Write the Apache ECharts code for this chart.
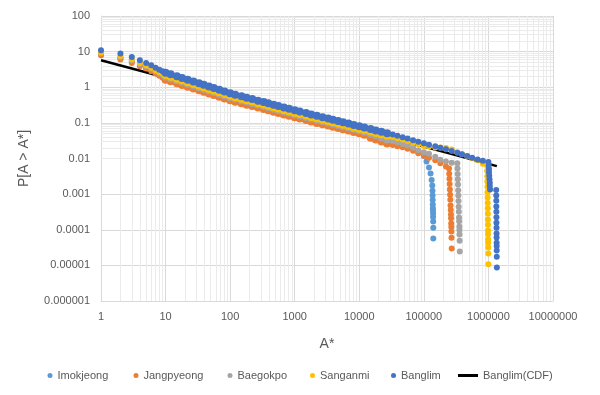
<!DOCTYPE html>
<html>
<head>
<meta charset="utf-8">
<script src="https://cdn.jsdelivr.net/npm/echarts@6/dist/echarts.min.js"></script>
<style>html,body{margin:0;padding:0;background:#fff;}#c{width:600px;height:395px;}</style>
</head>
<body>
<div id="c"></div>
<script>
const xTickLabels = ['1','10','100','1000','10000','100000','1000000','10000000'];
const yTickLabels = ['0.000001','0.00001','0.0001','0.001','0.01','0.1','1','10','100'];
const seriesNames = ['Imokjeong','Jangpyeong','Baegokpo','Sanganmi','Banglim'];
const cdfName = 'Banglim(CDF)';

const bandA = [1,2,3,4,5,6,7,8,9,
10,12,15,18,22,27,33,39,47,56,68,82,
100,120,150,180,220,270,330,390,470,560,680,820,
1000,1200,1500,1800,2200,2700,3300,3900,4700,5600,6800,8200,
10000,12000,15000,18000,22000,27000,33000,39000,47000,56000,68000,82000,
100000,120000,150000,180000,220000,270000,330000,390000,470000,560000,680000,820000];

const imokP = [8.2,6.5,5.2,4.2,3.5,3.05,2.6,2.3,2.07,
1.86,1.67,1.47,1.32,1.18,1.04,0.934,0.847,0.760,0.685,0.612,0.550,
0.489,0.449,0.403,0.370,0.337,0.305,0.277,0.256,0.235,0.216,0.197,0.180,
0.164,0.151,0.136,0.125,0.114,0.105,0.0956,0.0887,0.0816,0.0753,0.0690,0.0635,
0.0581,0.0534,0.0484,0.0445,0.0407,0.0371,0.0336,0.0310,0.0280,0.0245,0.0190,0.0152];
const imokTailA = [100000,110000,120000,127000,132000,135000,136000,136500,137000,137500,138000,138500,139000,139000,139500,140000,140000];
const imokTailP = [0.0118,0.0082,0.0056,0.0038,0.0025,0.00175,0.00125,0.00091,0.00068,0.00051,0.00040,0.00034,0.000285,0.000228,0.000171,0.000114,0.000057];

const jangP = [7.9,6.0,4.8,3.9,3.35,2.81,2.43,2.1,1.85,
1.63,1.47,1.29,1.16,1.04,0.916,0.820,0.744,0.668,0.602,0.537,0.483,
0.430,0.394,0.354,0.325,0.296,0.268,0.244,0.225,0.206,0.190,0.173,0.158,
0.144,0.132,0.120,0.110,0.100,0.0919,0.0840,0.0779,0.0717,0.0661,0.0606,0.0558,
0.0510,0.0462,0.0380,0.0340,0.0300,0.0265,0.0238,0.0221,0.0206,0.0187,0.0164,0.0140,
0.0119,0.0105,0.0089,0.0073,0.0060];
const jangTailA = [245000,247000,249000,251000,253000,255000,257000,259000,261000,263000,264000,265000,266000,267000,268000,270000];
const jangTailP = [0.00525,0.00375,0.0027,0.00192,0.00135,0.00096,0.00069,0.00048,0.00036,0.00027,0.00021,0.00015,0.00012,0.00009,0.00006,0.00003];

const baegP = [9.0,7.0,5.6,4.5,3.8,3.3,2.8,2.45,2.2,
2.0,1.79,1.58,1.42,1.26,1.12,1.00,0.908,0.815,0.734,0.656,0.589,
0.525,0.481,0.432,0.397,0.361,0.327,0.297,0.275,0.251,0.231,0.211,0.192,
0.175,0.161,0.146,0.134,0.123,0.112,0.102,0.0951,0.0875,0.0807,0.0740,0.0681,
0.0620,0.0562,0.0494,0.0448,0.0394,0.0342,0.0308,0.0281,0.0255,0.0230,0.0199,0.0170,
0.0149,0.0135,0.0112,0.0092,0.0083,0.0076];
const baegTailA = [330000,332000,334000,336000,338000,340000,342000,344000,346000,348000,350000,352000,354000,355000,356000,358000,360000];
const baegTailP = [0.0074,0.0052,0.0037,0.0026,0.00185,0.00128,0.00091,0.00064,0.000445,0.00032,0.00022,0.000173,0.000124,0.000099,0.000074,0.000049,0.0000247];

const sangP = [9.5,7.5,6.0,4.8,4.05,3.5,3.0,2.65,2.4,
2.19,1.97,1.73,1.56,1.39,1.23,1.10,1.00,0.894,0.805,0.719,0.646,
0.575,0.528,0.474,0.435,0.396,0.358,0.326,0.301,0.276,0.254,0.231,0.211,
0.192,0.177,0.160,0.147,0.134,0.123,0.112,0.104,0.0959,0.0885,0.0811,0.0746,
0.0683,0.0628,0.0569,0.0523,0.0478,0.0437,0.0399,0.0370,0.0339,0.0309,0.0278,0.0251,
0.0226,0.0217,0.0205,0.0202,0.0198,0.0178,0.0150,0.0132,0.0116,0.0102,0.0089,0.0071];
const sangTailA = [950000,955000,960000,963000,966000,969000,972000,975000,978000,980000,982000,984000,986000,988000,990000,992000,994000,996000,998000];
const sangTailP = [0.0064,0.0045,0.0032,0.00225,0.0016,0.00112,0.0008,0.00056,0.0004,0.00028,0.000193,0.000139,0.000096,0.000075,0.0000535,0.000043,0.000032,0.0000214,0.0000107];

const bangP = [11,8.9,7.1,5.7,4.8,4.15,3.5,3.1,2.8,
2.57,2.31,2.03,1.83,1.63,1.44,1.29,1.17,1.05,0.946,0.845,0.759,
0.676,0.620,0.557,0.511,0.465,0.421,0.383,0.354,0.324,0.298,0.272,0.248,
0.226,0.208,0.188,0.173,0.158,0.1445,0.132,0.1225,0.1127,0.104,0.0953,0.0877,
0.0802,0.0738,0.0668,0.0615,0.0562,0.0513,0.0469,0.0435,0.0398,0.0363,0.0327,0.0295,
0.0266,0.0244,0.0219,0.0200,0.0182,0.0163,0.01445,0.0131,0.0117,0.01052,0.00937,0.0087];
const bangTailA = [1000000,1010000,1020000,1020000,1030000,1040000,1050000,1050000,1060000,
1320000,1322000,1324000,1326000,1328000,1330000,1332000,1334000,1336000,1338000,1340000,1342000,1344000,1346000,1350000];
const bangTailP = [0.0080,0.0064,0.0051,0.0041,0.0033,0.0026,0.0021,0.0017,0.00135,
0.0013,0.00091,0.00065,0.00045,0.00032,0.000226,0.000157,0.000113,0.000078,0.000061,0.0000435,0.000035,0.000026,0.0000174,0.0000087];

const cdfA = [1, 1350000];
const cdfP = [5.7, 0.0061];

const colors = ['#5B9BD5','#ED7D31','#A5A5A5','#FFC000','#4472C4'];
const legendLefts = [47.5, 133.5, 227.5, 310, 391];

function pairs(a, p) { const out = []; for (let i = 0; i < p.length; i++) out.push([a[i], p[i]]); return out; }
const bands = [imokP, jangP, baegP, sangP, bangP];
const tails = [[imokTailA, imokTailP],[jangTailA, jangTailP],[baegTailA, baegTailP],[sangTailA, sangTailP],[bangTailA, bangTailP]];

// minor gridline positions (axis values 2..9 x 10^k)
const minorLines = [];
for (let e = 0; e < 7; e++) for (let m = 2; m <= 9; m++) minorLines.push({ xAxis: m * Math.pow(10, e) });
for (let e = -6; e < 2; e++) for (let m = 2; m <= 9; m++) minorLines.push({ yAxis: +(m * Math.pow(10, e)).toPrecision(3) });

const font = 'Liberation Sans, Arial, sans-serif';
const txt = '#595959';

const series = seriesNames.map((n, i) => {
  const bandLen = bands[i].length;
  return {
    name: n, type: 'scatter', z: 3, symbol: 'circle',
    symbolSize: (val, params) => (params.dataIndex >= 9 && params.dataIndex < bandLen && val[0] < 30000) ? 8 : 6,
    itemStyle: { color: colors[i], opacity: 1 },
    data: pairs(bandA, bands[i]).concat(pairs(tails[i][0], tails[i][1])),
    animation: false
  };
});
series.push({
  name: cdfName, type: 'line', z: 2, showSymbol: false, symbol: 'none',
  lineStyle: { color: '#000', width: 2.5 }, itemStyle: { color: '#000' },
  data: pairs(cdfA, cdfP), animation: false,
  markLine: { silent: true, symbol: ['none','none'], z: 1, animation: false,
    label: { show: false }, lineStyle: { color: '#EBEBEB', width: 1, type: 'solid' },
    emphasis: { disabled: true }, data: minorLines }
});

const legends = seriesNames.map((n, i) => ({
  data: [n], left: legendLefts[i], top: 370, padding: 0, icon: 'circle',
  itemWidth: 5, itemHeight: 5, textStyle: { color: txt, fontSize: 11, fontFamily: font }
}));
legends.push({ data: [cdfName], left: 458, top: 370, padding: 0, icon: 'rect',
  itemWidth: 20, itemHeight: 3, textStyle: { color: txt, fontSize: 11, fontFamily: font } });

const chart = echarts.init(document.getElementById('c'), null, { renderer: 'canvas' });
chart.setOption({
  animation: false,
  backgroundColor: '#fff',
  grid: { left: 101, right: 47, top: 16, bottom: 94, containLabel: false },
  legend: legends,
  xAxis: {
    type: 'log', logBase: 10, min: 1, max: 10000000, splitNumber: 7,
    name: 'A*', nameLocation: 'middle', nameGap: 36,
    nameTextStyle: { color: txt, fontSize: 14, fontFamily: font },
    axisLine: { show: true, lineStyle: { color: '#D9D9D9' } },
    axisTick: { show: false },
    axisLabel: { color: txt, fontSize: 11, fontFamily: font, margin: 10,
      formatter: v => xTickLabels[Math.round(Math.log10(v))] || '' },
    splitLine: { show: true, lineStyle: { color: '#D9D9D9', width: 1 } }
  },
  yAxis: {
    type: 'log', logBase: 10, min: 0.000001, max: 100, splitNumber: 8,
    name: 'P[A > A*]', nameLocation: 'middle', nameGap: 70, nameRotate: 90,
    nameTextStyle: { color: txt, fontSize: 14, fontFamily: font },
    axisLine: { show: true, lineStyle: { color: '#D9D9D9' } },
    axisTick: { show: false },
    axisLabel: { color: txt, fontSize: 11, fontFamily: font, margin: 11,
      formatter: v => yTickLabels[Math.round(Math.log10(v)) + 6] || '' },
    splitLine: { show: true, lineStyle: { color: '#D9D9D9', width: 1 } }
  },
  series: series
});
</script>
</body>
</html>
